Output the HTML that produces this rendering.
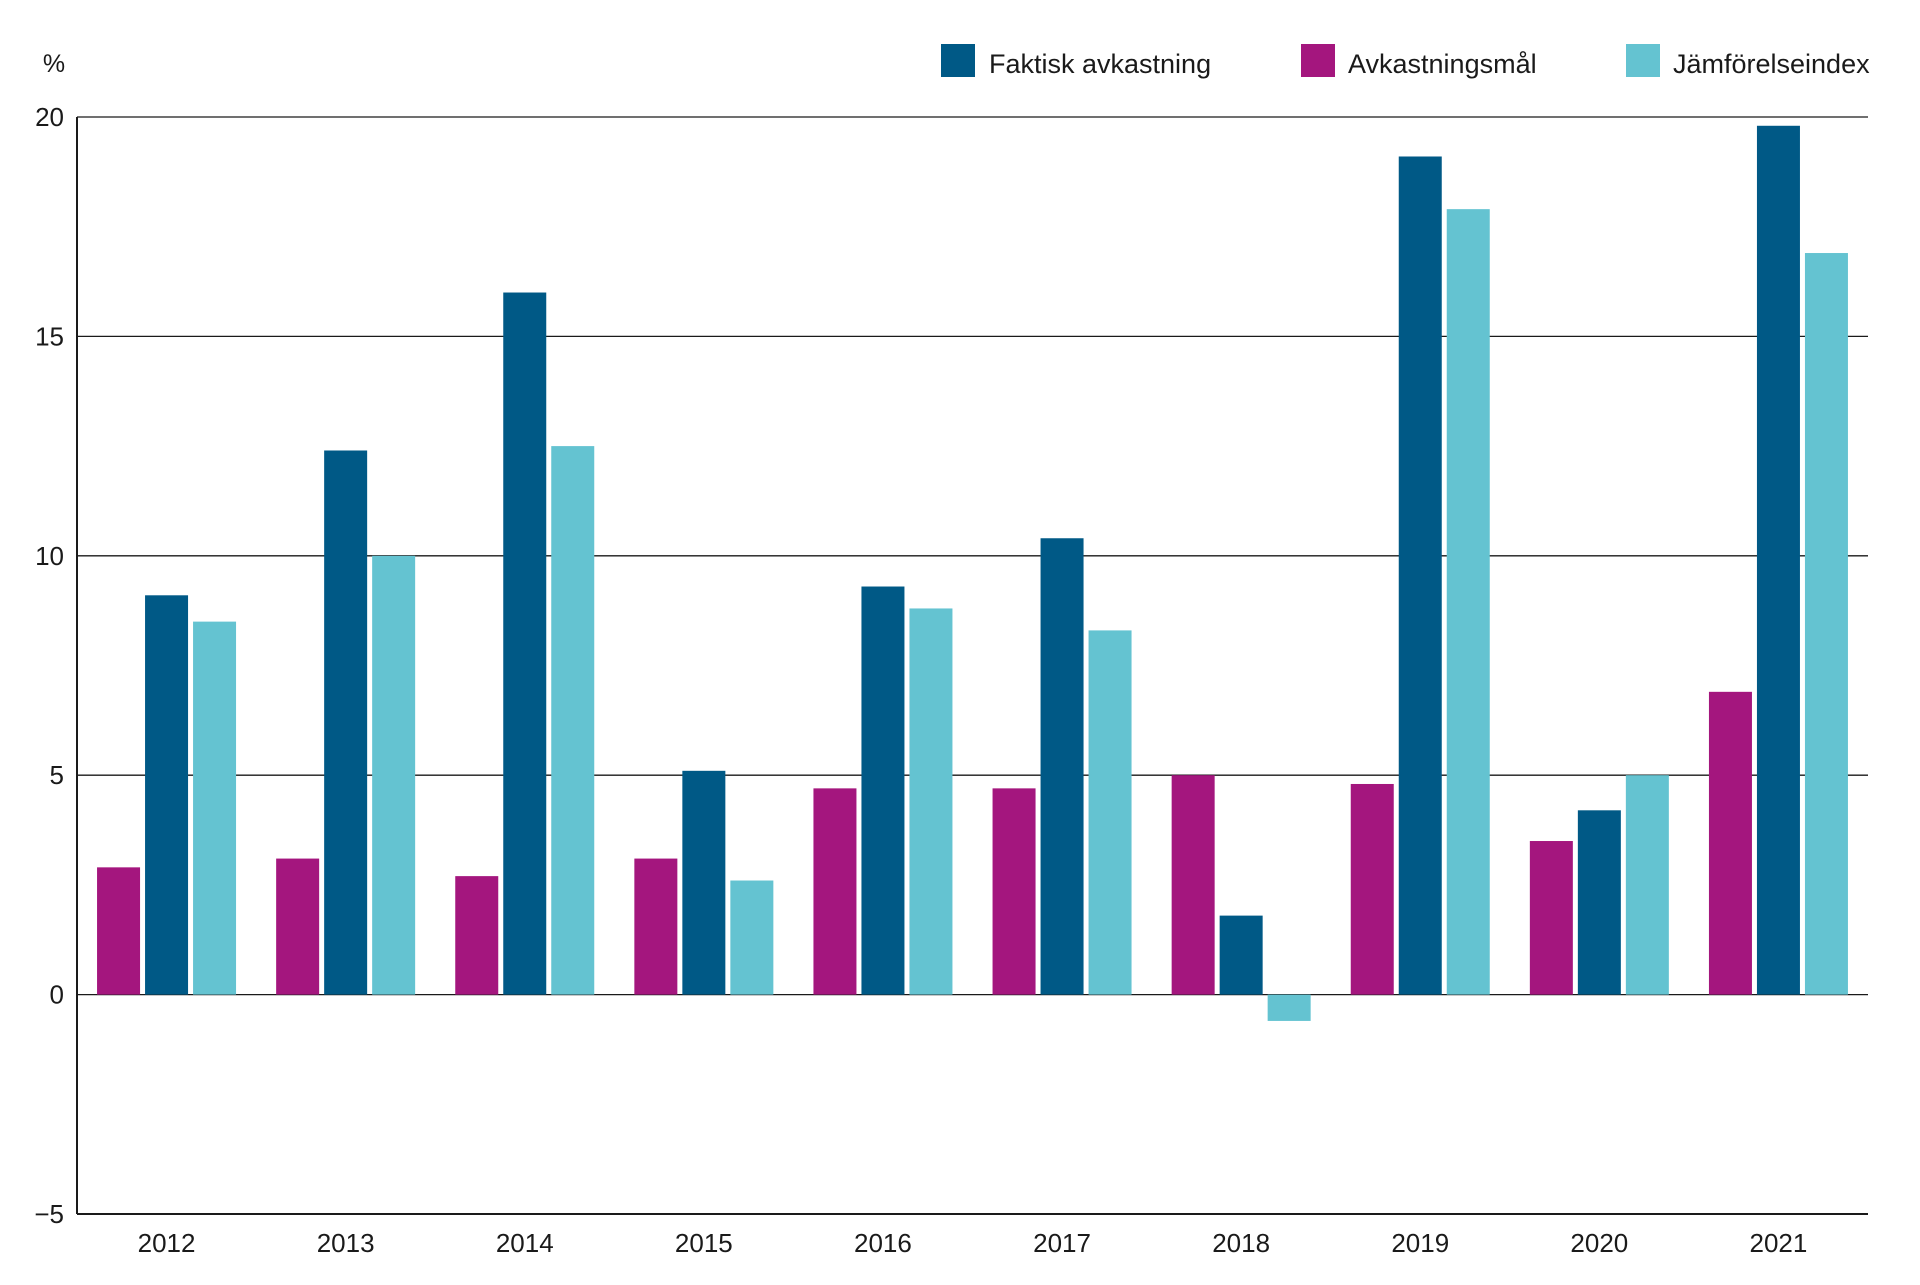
<!DOCTYPE html>
<html><head><meta charset="utf-8"><style>
html,body{margin:0;padding:0;background:#fff;}
svg text{font-family:"Liberation Sans",sans-serif;fill:#1a1a1a;}
</style></head><body>
<svg id="chart" width="1920" height="1280" xmlns="http://www.w3.org/2000/svg">
<text x="54" y="72" font-size="25" text-anchor="middle">%</text>
<g>
 <g><rect x="941" y="44" width="34" height="33" fill="#005986"/><text x="989" y="73" font-size="27">Faktisk avkastning</text></g>
 <g><rect x="1301" y="44" width="34" height="33" fill="#a4167e"/><text x="1348" y="73" font-size="27">Avkastningsmål</text></g>
 <g><rect x="1626" y="44" width="34" height="33" fill="#64c3d1"/><text x="1673" y="73" font-size="27">Jämförelseindex</text></g>
</g>
<g id="grid"></g><g id="bars"></g><g id="labels"></g>
</svg>
<script>
const categories=["2012","2013","2014","2015","2016","2017","2018","2019","2020","2021"];
const maal=[2.9,3.1,2.7,3.1,4.7,4.7,5.0,4.8,3.5,6.9];
const faktisk=[9.1,12.4,16.0,5.1,9.3,10.4,1.8,19.1,4.2,19.8];
const index=[8.5,10.0,12.5,2.6,8.8,8.3,-0.6,17.9,5.0,16.9];
const yTicks=[20,15,10,5,0,-5];
const NS="http://www.w3.org/2000/svg";
const L=77,R=1868,T=117,B=1214,ymin=-5,ymax=20;
const y=v=>T+(ymax-v)/(ymax-ymin)*(B-T);
const slot=(R-L)/categories.length;
const xc=i=>L+slot*(i+0.5);
function mk(tag,attrs,parent){const e=document.createElementNS(NS,tag);for(const k in attrs)e.setAttribute(k,attrs[k]);parent.appendChild(e);return e;}
const grid=document.getElementById('grid'),bars=document.getElementById('bars'),labels=document.getElementById('labels');
yTicks.forEach(t=>{
 const l=mk('line',{x1:L,x2:R,y1:y(t),y2:y(t),stroke:'#1a1a1a','stroke-width':t===-5?2:1.3},grid);
 
 
 const tx=mk('text',{x:64,y:y(t)+9,'font-size':26,'text-anchor':'end'},labels);
 tx.textContent=t<0?'−'+Math.abs(t):String(t);
 
 
});
const ax=mk('line',{x1:L,x2:L,y1:T,y2:B,stroke:'#1a1a1a','stroke-width':2},grid);


const series=[[maal,'#a4167e',-48,'maal'],[faktisk,'#005986',0,'faktisk'],[index,'#64c3d1',48,'index']];
const bw=43;
categories.forEach((c,i)=>{
 series.forEach(([arr,col,off,nm])=>{
  const v=arr[i];
  const r=mk('rect',{x:xc(i)+off-bw/2,y:Math.min(y(v),y(0)),width:bw,height:Math.abs(y(v)-y(0)),fill:col},bars);
  
  
 });
 const tx=mk('text',{x:xc(i),y:1252,'font-size':26,'text-anchor':'middle'},labels);
 tx.textContent=c;
 
 
});
</script>
</body></html>
